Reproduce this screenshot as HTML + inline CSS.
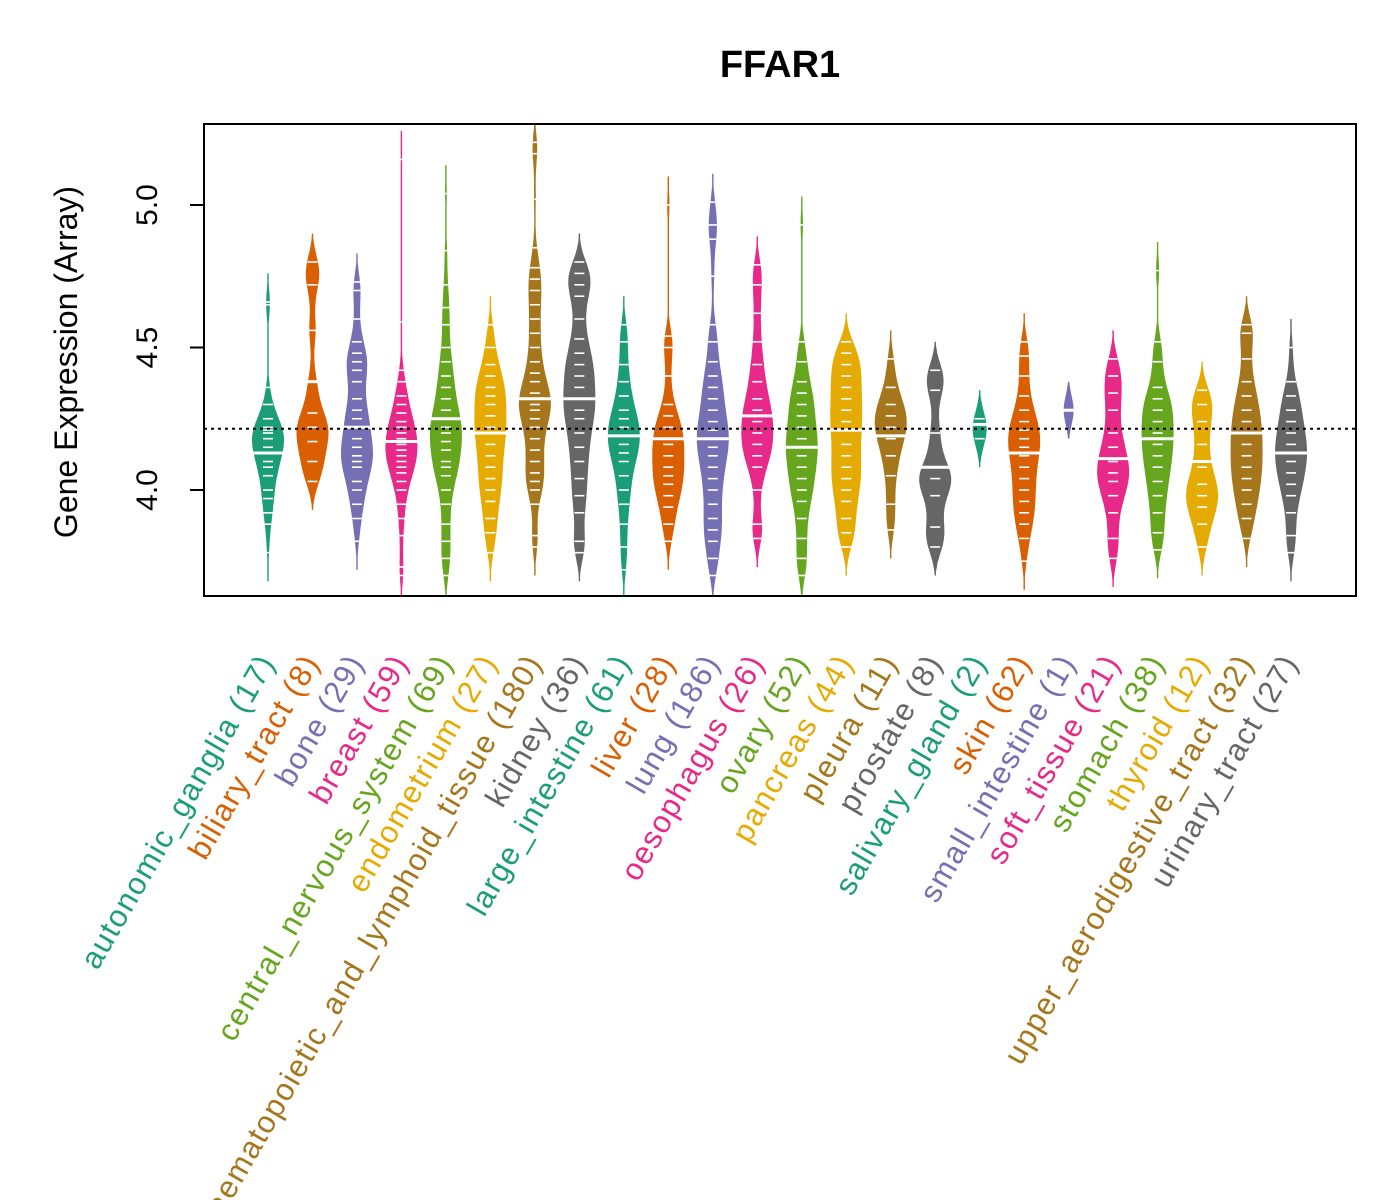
<!DOCTYPE html>
<html><head><meta charset="utf-8"><style>
body{margin:0;background:#fff;}
svg{display:block;font-family:"Liberation Sans",Arial,sans-serif;}
</style></head><body>
<svg id="chart" width="1400" height="1200" viewBox="0 0 1400 1200">
<text x="780" y="77" text-anchor="middle" font-size="38" font-weight="bold">FFAR1</text>
<g id="beans"></g>
<g id="axes"></g>
</svg>
<script>
const categories=["autonomic_ganglia","biliary_tract","bone","breast","central_nervous_system","endometrium","haematopoietic_and_lymphoid_tissue","kidney","large_intestine","liver","lung","oesophagus","ovary","pancreas","pleura","prostate","salivary_gland","skin","small_intestine","soft_tissue","stomach","thyroid","upper_aerodigestive_tract","urinary_tract"];
const counts=[17,8,29,59,69,27,180,36,61,28,186,26,52,44,11,8,2,62,1,21,38,12,32,27];
const medians=[4.13,4.38,4.22,4.17,4.25,4.20,4.32,4.32,4.19,4.18,4.18,4.26,4.15,4.21,4.19,4.08,4.23,4.13,4.28,4.11,4.18,4.10,4.20,4.13];
const values=[
[3.78,3.88,3.92,3.97,4.00,4.05,4.08,4.10,4.13,4.15,4.18,4.20,4.21,4.22,4.25,4.30,4.36,4.65,4.66],
[4.03,4.10,4.17,4.22,4.27,4.38,4.56,4.72,4.80],
[3.82,3.90,3.95,4.00,4.03,4.08,4.10,4.12,4.15,4.18,4.22,4.25,4.28,4.32,4.38,4.42,4.45,4.48,4.52,4.60,4.70,4.73],
[3.70,3.73,3.84,3.90,3.95,4.00,4.03,4.06,4.08,4.10,4.12,4.14,4.16,4.18,4.20,4.22,4.24,4.27,4.30,4.33,4.38,4.42,4.59,5.16],
[3.70,3.76,3.82,3.88,3.95,4.00,4.05,4.08,4.10,4.14,4.17,4.20,4.22,4.25,4.28,4.32,4.36,4.40,4.45,4.50,4.58,4.64,4.72,4.84,5.04],
[3.78,3.85,3.90,3.96,4.00,4.04,4.08,4.12,4.16,4.20,4.22,4.26,4.30,4.33,4.36,4.40,4.44,4.50,4.58],
[3.80,3.84,3.95,4.00,4.03,4.06,4.10,4.14,4.18,4.22,4.25,4.28,4.30,4.32,4.34,4.38,4.41,4.45,4.50,4.55,4.60,4.65,4.70,4.74,4.78,4.85,5.02,5.18,5.22],
[3.78,3.82,3.92,3.98,4.04,4.10,4.15,4.20,4.25,4.28,4.32,4.36,4.40,4.44,4.48,4.53,4.60,4.68,4.72,4.76,4.80],
[3.72,3.80,3.88,3.95,4.00,4.05,4.10,4.13,4.16,4.19,4.22,4.25,4.28,4.33,4.38,4.44,4.52,4.58],
[3.82,3.88,3.94,3.98,4.02,4.05,4.08,4.12,4.16,4.18,4.22,4.26,4.30,4.40,4.50,4.54,5.00],
[3.70,3.76,3.82,3.86,3.90,3.95,4.00,4.04,4.08,4.12,4.15,4.18,4.21,4.24,4.28,4.32,4.36,4.40,4.45,4.52,4.58,4.75,4.88,4.93,5.01],
[3.83,3.88,4.00,4.08,4.12,4.16,4.20,4.24,4.28,4.32,4.38,4.44,4.52,4.62,4.72,4.79],
[3.70,3.76,3.83,3.90,3.96,4.00,4.04,4.08,4.12,4.15,4.18,4.22,4.26,4.30,4.34,4.38,4.45,4.52,4.93],
[3.80,3.85,3.90,3.96,4.00,4.04,4.08,4.12,4.16,4.21,4.24,4.28,4.32,4.36,4.40,4.44,4.48,4.52],
[3.86,3.95,4.05,4.12,4.18,4.22,4.26,4.30,4.36,4.46],
[3.80,3.87,3.98,4.04,4.08,4.20,4.35,4.42],
[4.18,4.25],
[3.75,3.83,3.88,3.92,3.96,4.00,4.04,4.08,4.12,4.15,4.18,4.21,4.24,4.28,4.33,4.40,4.47,4.52],
[4.28],
[3.76,3.83,3.92,3.98,4.03,4.06,4.10,4.15,4.20,4.28,4.34,4.40,4.46],
[3.79,3.85,3.92,3.98,4.03,4.08,4.12,4.16,4.20,4.24,4.28,4.32,4.36,4.45,4.52,4.77],
[3.80,3.88,3.94,3.98,4.02,4.08,4.16,4.24,4.30,4.35],
[3.83,3.90,3.95,4.00,4.04,4.08,4.12,4.16,4.20,4.24,4.28,4.33,4.38,4.46,4.55,4.58],
[3.78,3.84,3.92,3.98,4.02,4.06,4.10,4.13,4.16,4.20,4.24,4.28,4.33,4.38,4.50]
];
const yTicks=[4.0,4.5,5.0];
const refLine=4.215;
const colors=["#1B9E77","#D95F02","#7570B3","#E7298A","#66A61E","#E6AB02","#A6761D","#666666"];
const NS="http://www.w3.org/2000/svg";
const P={l:204,r:1356,t:124,b:596};
function yS(v){return 490-(v-4)*285;}
function xS(i){return 268+i*44.48;}
const beans=document.getElementById('beans'), axes=document.getElementById('axes');
function mk(tag,attrs,parent){const e=document.createElementNS(NS,tag);for(const k in attrs)e.setAttribute(k,attrs[k]);parent.appendChild(e);return e;}
const bw=0.065, pw=1.7;
const clip=mk('clipPath',{id:'pc'},document.getElementById('chart'));
mk('rect',{x:P.l,y:P.t,width:P.r-P.l,height:P.b-P.t},clip);
beans.setAttribute('clip-path','url(#pc)');
categories.forEach((c,i)=>{
  const vals=values[i], col=colors[i%8], cx=xS(i);
  const g=mk('g',{},beans);
  
  
  const lo=Math.min(...vals)-0.1, hi=Math.max(...vals)+0.1;
  const N=140, dens=[];
  const dAt=v=>{let d=0;vals.forEach(x=>{d+=Math.exp(-0.5*((v-x)/bw)**2);});return d;};
  for(let k=0;k<=N;k++){const v=lo+(hi-lo)*k/N;dens.push([v,dAt(v)]);}
  const mx=Math.max(...dens.map(d=>d[1]));
  const hw=counts[i]>=8?16:(counts[i]>=2?7:5);
  const W=d=>Math.max(0.7,Math.pow(d/mx,pw)*hw);
  const pts=[];
  dens.forEach(([v,d])=>pts.push((cx+W(d)).toFixed(1)+','+yS(v).toFixed(1)));
  for(let k=dens.length-1;k>=0;k--){const [v,d]=dens[k];pts.push((cx-W(d)).toFixed(1)+','+yS(v).toFixed(1));}
  const poly=mk('polygon',{points:pts.join(' '),fill:col},g);
  
  
  vals.forEach(v=>{
    const w=Math.min(5,W(dAt(v)));
    const ln=mk('line',{x1:cx-Math.max(w,3.5),x2:cx+Math.max(w,3.5),y1:yS(v),y2:yS(v),stroke:'#fff','stroke-width':1.6},g);
    
    
  });
  const md=medians[i];
  const mw=Math.max(4,W(dAt(md))+1);
  const ml=mk('line',{x1:cx-mw,x2:cx+mw,y1:yS(md),y2:yS(md),stroke:'#fff','stroke-width':3},g);
  
  
  const t=mk('text',{transform:`translate(${cx+8},${662}) rotate(-60)`,'text-anchor':'end','font-size':31,'letter-spacing':1.5,fill:col},axes);
  t.textContent=c+' ('+counts[i]+')';
  
  
});
const ref=mk('line',{x1:P.l,x2:P.r,y1:yS(refLine),y2:yS(refLine),stroke:'#000','stroke-width':2,'stroke-dasharray':'3,4'},axes);


const fr=mk('rect',{x:P.l,y:P.t,width:P.r-P.l,height:P.b-P.t,fill:'none',stroke:'#000','stroke-width':2},axes);


yTicks.forEach(v=>{
  const tk=mk('line',{x1:P.l-14,x2:P.l,y1:yS(v),y2:yS(v),stroke:'#000','stroke-width':2},axes);
  
  
  const tl=mk('text',{transform:`translate(157,${yS(v)}) rotate(-90)`,'text-anchor':'middle','font-size':30},axes);
  tl.textContent=v.toFixed(1);
  
  
});
const yt=mk('text',{transform:'translate(77,362) rotate(-90)','text-anchor':'middle','font-size':32},axes);
yt.textContent='Gene Expression (Array)';


</script>
</body></html>
